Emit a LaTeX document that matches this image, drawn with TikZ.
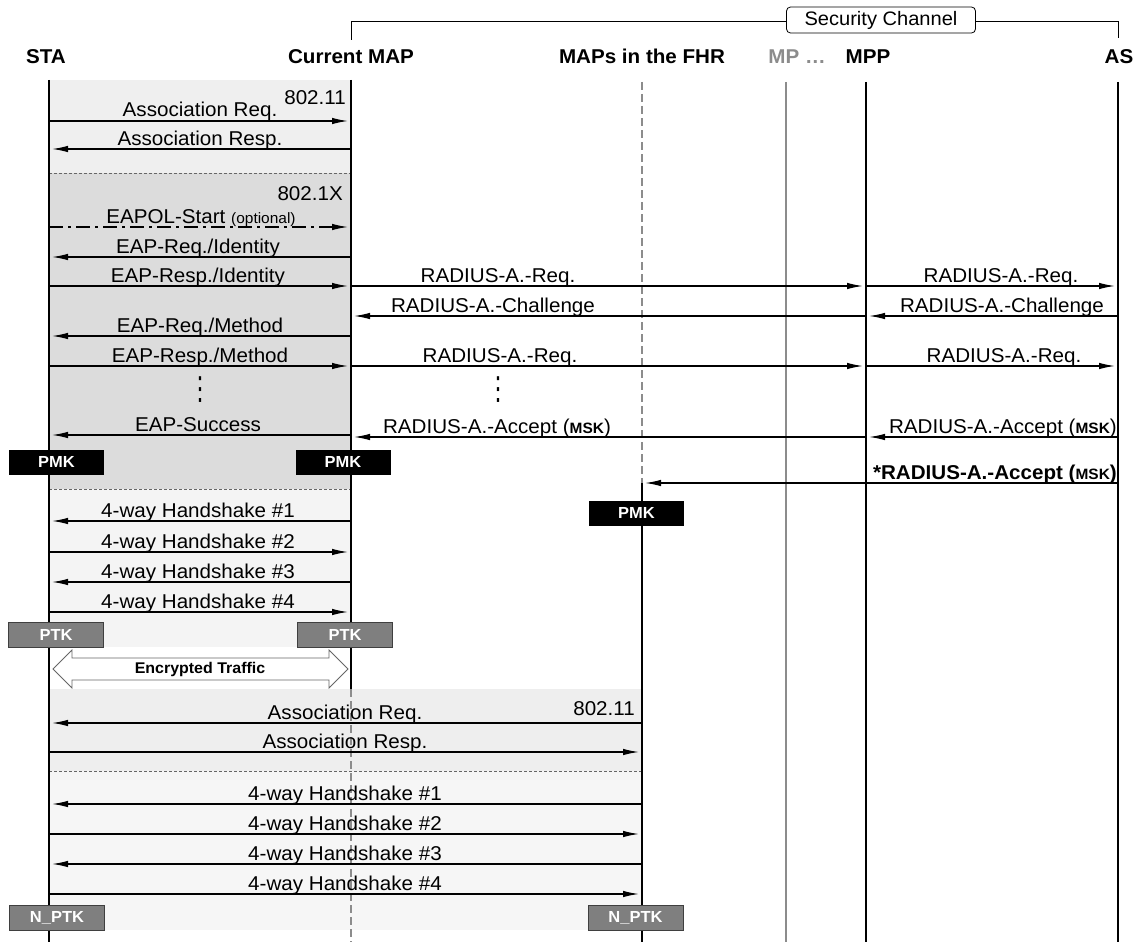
\documentclass[tikz,border=0pt]{standalone}
\usepackage{fontspec}
\setmainfont[FakeStretch=1.03]{Liberation Sans}
\newfontfamily\djv{DejaVu Sans}
\usetikzlibrary{arrows.meta,calc}
\definecolor{bgA}{HTML}{EFEFEF}
\definecolor{bgB}{HTML}{DCDCDC}
\definecolor{bgC}{HTML}{F4F4F4}
\definecolor{bgD}{HTML}{EEEEEE}
\definecolor{bgE}{HTML}{F6F6F6}
\definecolor{ptkgray}{HTML}{7F7F7F}
\definecolor{ptkborder}{HTML}{3F3F3F}
\definecolor{sepgray}{HTML}{666666}
\definecolor{lifegray}{HTML}{8C8C8C}
\newcommand\fnt[1]{\fontsize{#1}{#1}\selectfont}
\newcommand\msg[4][]{\draw[msgl,#1] ($(#2)+(0,#4)$) -- ($(#3)+(0,#4)$);}
\tikzset{
  life/.style={line width=1.4pt},
  msgl/.style={line width=1.3pt, -{Latex[length=16pt,width=6.5pt]}, shorten >=3pt},
  lbl/.style={anchor=base, inner sep=0pt, font=\fnt{20}},
  lble/.style={anchor=base east, inner sep=0pt, font=\fnt{20}},
  hdr/.style={anchor=base, inner sep=0pt, font=\bfseries\fnt{20}},
  keybox/.style={minimum width=95pt, minimum height=25pt, inner sep=0pt, font=\bfseries\fnt{16}, text=white},
  pmkbox/.style={keybox, fill=black},
  ptkbox/.style={keybox, fill=ptkgray, draw=ptkborder, line width=0.8pt},
  sepline/.style={draw=sepgray, line width=0.8pt, dash pattern=on 3pt off 2pt},
  vdotnode/.style={inner sep=0pt, font=\djv\fnt{22}},
}
\begin{document}
\begin{tikzpicture}[x=1pt,y=-1pt]
\useasboundingbox (0,0) rectangle (1144,942);
% lifeline anchors
\coordinate (STA) at (49,0);
\coordinate (CMAP) at (351,0);
\coordinate (FHR) at (642,0);
\coordinate (MP) at (786,0);
\coordinate (MPP) at (866,0);
\coordinate (AS) at (1118,0);
% background regions
\fill[bgA] (49,80) rectangle (351,173);
\fill[bgB] (49,173) rectangle (351,489);
\fill[bgC] (49,489) rectangle (351,647);
\fill[bgD] (49,689) rectangle (642,771);
\fill[bgE] (49,771) rectangle (642,930);
\draw[sepline] (49,173) -- (351,173);
\draw[sepline] (49,489) -- (351,489);
\draw[sepline] (49,771) -- (642,771);
% headers
\node[hdr] (hSTA) at (46,64) {STA};
\node[hdr] (hCMAP) at (351,64) {Current MAP};
\node[hdr] (hFHR) at (642,64) {MAPs in the FHR};
\node[hdr, text=lifegray] (hMP) at (797,64) {MP …};
\node[hdr] (hMPP) at (868,64) {MPP};
\node[hdr] (hAS) at (1119,64) {AS};
% security channel
\node[draw, line width=0.8pt, rounded corners=4pt, minimum width=189pt, minimum height=26pt, inner sep=0pt, font=\fnt{19.5}] (sec) at (881,20) {Security Channel};
\draw[line width=0.8pt] ($(CMAP)+(0,40)$) -- ($(CMAP)+(0,21)$) -- (sec.west |- 0,21);
\draw[line width=0.8pt] (sec.east |- 0,21) -- ($(AS)+(0,21)$) -- ($(AS)+(0,38)$);
% lifelines
\draw[life] ($(STA)+(0,80)$) -- ($(STA)+(0,942)$);
\draw[life] ($(CMAP)+(0,80)$) -- ($(CMAP)+(0,689)$);
\draw[life, lifegray, dash pattern=on 8pt off 4pt] ($(CMAP)+(0,689)$) -- ($(CMAP)+(0,942)$);
\draw[life, lifegray, dash pattern=on 8pt off 4pt] ($(FHR)+(0,82)$) -- ($(FHR)+(0,483)$);
\draw[life] ($(FHR)+(0,483)$) -- ($(FHR)+(0,942)$);
\draw[life, lifegray] ($(MP)+(0,82)$) -- ($(MP)+(0,942)$);
\draw[life] ($(MPP)+(0,82)$) -- ($(MPP)+(0,942)$);
\draw[life] ($(AS)+(0,82)$) -- ($(AS)+(0,942)$);
% 802.11 association
\node[lble] (t80211) at (346,104) {802.11};
\msg{STA}{CMAP}{121}
\node[lbl] (tar) at (200,117) {Association Req.};
\msg{CMAP}{STA}{149}
\node[lbl] (tas) at (200,145) {Association Resp.};
% 802.1X
\node[lble] (t8021x) at (343,200) {802.1X};
\msg[dash pattern=on 14pt off 5pt on 3pt off 5pt]{STA}{CMAP}{227}
\node[lbl] (teapol) at (201,223) {EAPOL-Start {\fnt{15}(optional)}};
\msg{CMAP}{STA}{257}
\node[lbl] (teri) at (198,253) {EAP-Req./Identity};
\msg{STA}{CMAP}{286}
\node[lbl] (tesi) at (198,282) {EAP-Resp./Identity};
\msg{CMAP}{MPP}{286}
\node[lbl] (tr1) at (498,282) {RADIUS-A.-Req.};
\msg{MPP}{AS}{286}
\node[lbl] (tr1b) at (1001,282) {RADIUS-A.-Req.};
\msg{MPP}{CMAP}{316}
\node[lbl] (tc1) at (493,312) {RADIUS-A.-Challenge};
\msg{AS}{MPP}{316}
\node[lbl] (tc1b) at (1002,312) {RADIUS-A.-Challenge};
\msg{CMAP}{STA}{336}
\node[lbl] (term) at (200,332) {EAP-Req./Method};
\msg{STA}{CMAP}{366}
\node[lbl] (tesm) at (200,362) {EAP-Resp./Method};
\msg{CMAP}{MPP}{366}
\node[lbl] (tr2) at (500,362) {RADIUS-A.-Req.};
\msg{MPP}{AS}{366}
\node[lbl] (tr2b) at (1004,362) {RADIUS-A.-Req.};
% vertical ellipses
\node[vdotnode] (dotsa) at (200,390) {\scalebox{1}[1.45]{⋮}};
\node[vdotnode] (dotsb) at (498,390) {\scalebox{1}[1.45]{⋮}};
\msg{CMAP}{STA}{435}
\node[lbl] (tsucc) at (198,431) {EAP-Success};
\msg{MPP}{CMAP}{437}
\node[lbl] (tacc) at (497,433) {RADIUS-A.-Accept ({\bfseries\fnt{15}MSK})};
\msg{AS}{MPP}{437}
\node[lble] (taccb) at (1117,433) {RADIUS-A.-Accept ({\bfseries\fnt{15}MSK})};
\node[pmkbox] (pmk1) at (56.5,462) {PMK};
\node[pmkbox] (pmk2) at (343,462) {PMK};
\msg{AS}{FHR}{483}
\node[lble, font=\bfseries\fnt{20}] (tstar) at (1117,479) {*RADIUS-A.-Accept ({\fnt{15}MSK})};
\node[pmkbox] (pmk3) at (636.5,513) {PMK};
% 4-way handshake (current MAP)
\msg{CMAP}{STA}{521}
\node[lbl] (h1) at (198,517) {4-way Handshake \#1};
\msg{STA}{CMAP}{552}
\node[lbl] (h2) at (198,548) {4-way Handshake \#2};
\msg{CMAP}{STA}{582}
\node[lbl] (h3) at (198,578) {4-way Handshake \#3};
\msg{STA}{CMAP}{612}
\node[lbl] (h4) at (198,608) {4-way Handshake \#4};
\node[ptkbox] (ptk1) at (56,635) {PTK};
\node[ptkbox] (ptk2) at (345,635) {PTK};
% encrypted traffic
\draw[draw=sepgray, line width=0.8pt, fill=white] (53,669) -- (72,650) -- (72,658) -- (329,658) -- (329,650) -- (348,669) -- (329,688) -- (329,680) -- (72,680) -- (72,688) -- cycle;
\node[inner sep=0pt, font=\bfseries\fnt{15.5}] (enc) at (200,669) {Encrypted Traffic};
% FHR re-association
\node[lble] (t80211b) at (635,715) {802.11};
\msg{FHR}{STA}{723}
\node[lbl] (tar2) at (345,719) {Association Req.};
\msg{STA}{FHR}{752}
\node[lbl] (tas2) at (345,748) {Association Resp.};
\msg{FHR}{STA}{804}
\node[lbl] (g1) at (345,800) {4-way Handshake \#1};
\msg{STA}{FHR}{834}
\node[lbl] (g2) at (345,830) {4-way Handshake \#2};
\msg{FHR}{STA}{864}
\node[lbl] (g3) at (345,860) {4-way Handshake \#3};
\msg{STA}{FHR}{894}
\node[lbl] (g4) at (345,890) {4-way Handshake \#4};
\node[ptkbox] (nptk1) at (57,918) {N\_PTK};
\node[ptkbox] (nptk2) at (635.5,918) {N\_PTK};
\end{tikzpicture}
\end{document}
